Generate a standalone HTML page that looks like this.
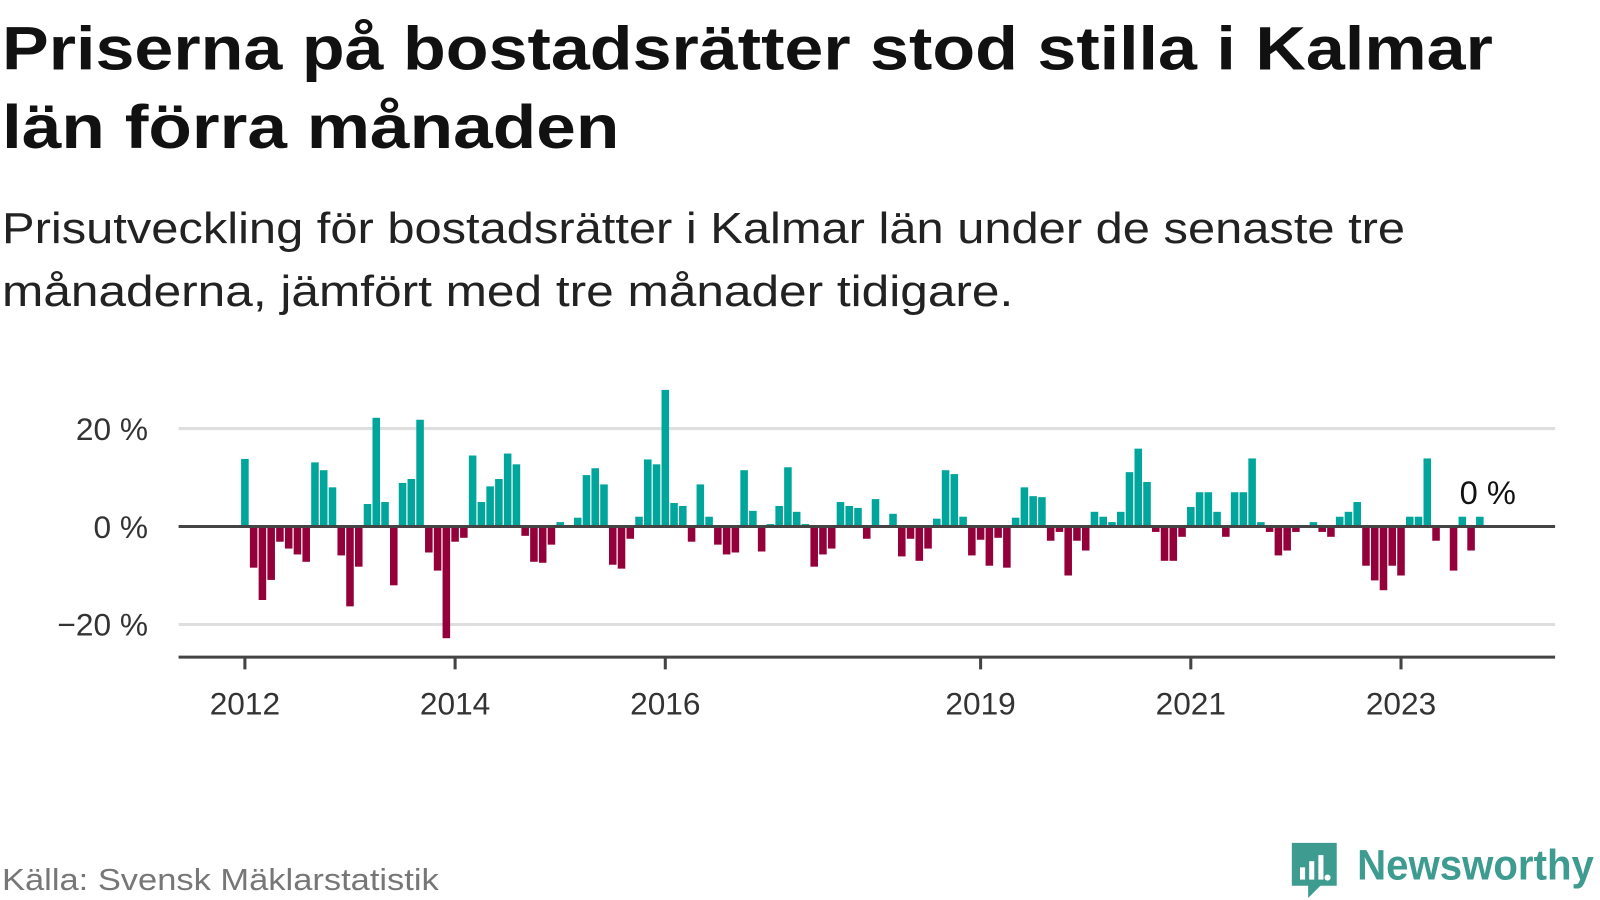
<!DOCTYPE html>
<html><head><meta charset="utf-8"><style>
html,body{margin:0;padding:0;background:#fff;}
svg{display:block;font-family:"Liberation Sans",sans-serif;}
</style></head><body>
<svg id="chart" width="1600" height="900" viewBox="0 0 1600 900">
<g transform="scale(1.0204)">
<text x="2" y="68" font-size="60" font-weight="bold" fill="#111" textLength="1461" lengthAdjust="spacingAndGlyphs">Priserna på bostadsrätter stod stilla i Kalmar</text>
<text x="2" y="145" font-size="60" font-weight="bold" fill="#111" textLength="605" lengthAdjust="spacingAndGlyphs">län förra månaden</text>
<text x="2" y="238" font-size="43" fill="#222" textLength="1375" lengthAdjust="spacingAndGlyphs">Prisutveckling för bostadsrätter i Kalmar län under de senaste tre</text>
<text x="2" y="300" font-size="43" fill="#222" textLength="991" lengthAdjust="spacingAndGlyphs">månaderna, jämfört med tre månader tidigare.</text>
<g id="grid"></g>
<g id="bars"></g>
<g id="axes"></g>
<text x="1458" y="494" font-size="32" fill="#111" text-anchor="middle">0 %</text>
<text x="2" y="872" font-size="30" fill="#777" textLength="428" lengthAdjust="spacingAndGlyphs">Källa: Svensk Mäklarstatistik</text>
<g>
<path d="M1266 826 h44 v42 h-16 l-12 12 v-12 h-16 z" fill="#3d9b8f"/>
<rect x="1274" y="850" width="5" height="12" fill="#fff"/>
<rect x="1283" y="844" width="5" height="18" fill="#fff"/>
<rect x="1292" y="838" width="5" height="24" fill="#fff"/>
<circle cx="1301" cy="860" r="3" fill="#fff"/>
<text x="1330" y="862" font-size="42" font-weight="bold" fill="#3d9b8f" textLength="232" lengthAdjust="spacingAndGlyphs">Newsworthy</text>
</g>
</g>
</svg>
<script>
const values = [13.8,-8.4,-15,-10.9,-3.1,-4.5,-5.7,-7.2,13.1,11.5,8,-5.9,
-16.3,-8.2,4.6,22.2,5,-12,8.9,9.7,21.8,-5.3,-9,-22.8,
-3.1,-2.3,14.5,5,8.2,9.7,14.9,12.7,-1.9,-7.2,-7.4,-3.7,
0.9,0,1.8,10.5,11.9,8.6,-7.8,-8.6,-2.5,2,13.7,12.7,
27.9,4.8,4.2,-3.1,8.6,2,-3.7,-5.7,-5.3,11.5,3.2,-5.1,
0.5,4.2,12.1,3,0.5,-8.2,-5.7,-4.5,5,4.2,3.8,-2.5,
5.6,0,2.6,-6.1,-2.5,-7,-4.5,1.6,11.5,10.7,2,-5.9,
-2.7,-8,-2.3,-8.4,1.8,8,6.2,6,-2.9,-1.1,-10,-2.9,
-4.9,3,2,0.9,3,11.1,15.9,9.1,-1.1,-7,-7,-2.1,
4,7,7,3,-2.1,7,7,13.9,0.9,-1.1,-5.9,-4.9,
-1.1,0,0.9,-1.1,-2.1,2,3,5,-8,-11,-13,-8,
-10,2,2,13.9,-2.9,0,-9,2,-4.9,2];
const yTicks = [20,0,-20];
const yTickLabels = ["20 %","0 %","\u221220 %"];
const xTickYears = [2012,2014,2016,2019,2021,2023];
const startYear = 2012;

const NS="http://www.w3.org/2000/svg";
const x0=240, monthW=103/12, zeroY=516, pxPer=4.8;
const xScale = i => x0 + i*monthW;
const yearX = yr => x0 + (yr-startYear)*103;
const yScale = v => zeroY - v*pxPer;
function mk(tag, attrs){const e=document.createElementNS(NS,tag);for(const k in attrs)e.setAttribute(k,attrs[k]);return e;}
const grid=document.getElementById('grid'), bars=document.getElementById('bars'), axes=document.getElementById('axes');
yTicks.forEach((t,i)=>{
  if(t!==0){
    const l=mk('line',{x1:175,x2:1524,y1:yScale(t),y2:yScale(t),stroke:'#dedede','stroke-width':3});
    
    
    grid.appendChild(l);
  }
  const tx=mk('text',{x:145,y:yScale(t)+11,'font-size':31,fill:'#333','text-anchor':'end'});
  tx.textContent=yTickLabels[i];
  
  
  axes.appendChild(tx);
});
values.forEach((v,i)=>{
  if(v===0) return;
  const cx=xScale(i), y=Math.min(yScale(v),zeroY), h=Math.abs(v*pxPer);
  const r=mk('rect',{x:cx-3.7,y:y,width:7.4,height:h,fill:v>0?'#00a59b':'#93003a'});
  
  
  bars.appendChild(r);
});
const zl=mk('line',{x1:175,x2:1524,y1:zeroY,y2:zeroY,stroke:'#444','stroke-width':3});


axes.appendChild(zl);
const ax=mk('line',{x1:175,x2:1524,y1:644,y2:644,stroke:'#444','stroke-width':3});


axes.appendChild(ax);
xTickYears.forEach(yr=>{
  const x=yearX(yr);
  const t=mk('line',{x1:x,x2:x,y1:644,y2:656,stroke:'#444','stroke-width':3});
  
  
  axes.appendChild(t);
  const tx=mk('text',{x:x,y:700,'font-size':31,fill:'#333','text-anchor':'middle'});
  tx.textContent=yr;
  
  
  axes.appendChild(tx);
});
</script>
</body></html>
